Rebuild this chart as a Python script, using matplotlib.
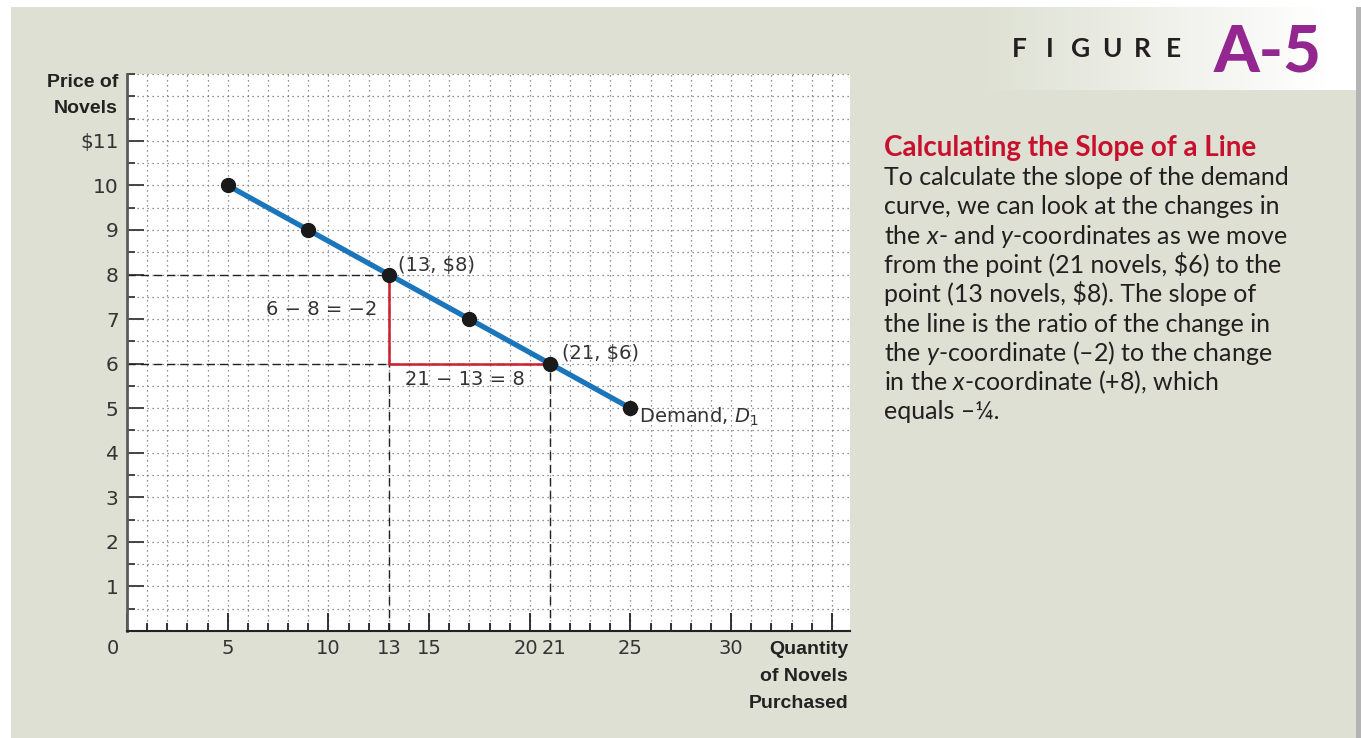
import numpy as np
import matplotlib.pyplot as plt
from matplotlib.patches import Rectangle
from matplotlib.colors import LinearSegmentedColormap
from matplotlib.ticker import MultipleLocator

# demand curve: quantity of novels vs price
quantity = [5, 9, 13, 17, 21, 25]
price = [10, 9, 8, 7, 6, 5]

# the two points used to measure the slope
q_a, p_a = 13, 8
q_b, p_b = 21, 6

x_label_vals = [5, 10, 13, 15, 20, 21, 25, 30]
y_tick_vals = list(range(1, 12))
y_tick_labels = [str(v) for v in range(1, 11)] + ["$11"]

body_lines = [
    "To calculate the slope of the demand",
    "curve, we can look at the changes in",
    "the $x$- and $y$-coordinates as we move",
    "from the point (21 novels, \\$6) to the",
    "point (13 novels, \\$8). The slope of",
    "the line is the ratio of the change in",
    "the $y$-coordinate (\u20132) to the change",
    "in the $x$-coordinate (+8), which",
    "equals \u2013\u00bc.",
]

panel = "#dde0d2"
blue = "#1b75bb"
red = "#d0202f"
purple = "#93278f"
ink = "#333333"

plt.rcParams["mathtext.fontset"] = "custom"
plt.rcParams["mathtext.rm"] = "Lato"
plt.rcParams["mathtext.it"] = "Lato:italic"

W, H = 1361, 738
fig = plt.figure(figsize=(W / 100, H / 100), dpi=100)
fig.patch.set_facecolor("white")


def fx(px):
    return px / W


def fy(py):
    return 1 - py / H


# background panel + shadow on the right
fig.add_artist(Rectangle((fx(11), 0), fx(1356) - fx(11), fy(7), transform=fig.transFigure,
                         facecolor=panel, edgecolor="none", zorder=0))
fig.add_artist(Rectangle((fx(1356), 0), fx(1361) - fx(1356), fy(7), transform=fig.transFigure,
                         facecolor="#b4b4b4", edgecolor="none", zorder=0))

# header band fading to white
gax = fig.add_axes([fx(977), fy(90), fx(1356) - fx(977), (90 - 7) / H])
cmap = LinearSegmentedColormap.from_list("hdr", [(0, panel), (0.92, "white"), (1, "white")])
gax.imshow(np.linspace(0, 1, 256)[None, :], aspect="auto", cmap=cmap)
gax.axis("off")

# the chart
ax = fig.add_axes([fx(127), fy(631), fx(850) - fx(127), (631 - 74) / H])
ax.set_xlim(0, 35.9)
ax.set_ylim(0, 12.5)
ax.set_facecolor("white")

for s in ["top", "right"]:
    ax.spines[s].set_visible(False)
ax.spines["left"].set_color("#5a5a5a")
ax.spines["left"].set_linewidth(2)
ax.spines["bottom"].set_color("#222222")
ax.spines["bottom"].set_linewidth(1.5)

ax.xaxis.set_major_locator(MultipleLocator(5))
ax.xaxis.set_minor_locator(MultipleLocator(1))
ax.tick_params(axis="x", which="major", direction="in", length=13, width=1.3,
               color="#222222", labelbottom=False)
ax.tick_params(axis="x", which="minor", direction="in", length=6, width=1.3, color="#222222")

ax.set_yticks(y_tick_vals, y_tick_labels)
ax.yaxis.set_minor_locator(MultipleLocator(0.5))
ax.tick_params(axis="y", which="major", direction="in", length=12, width=1.4,
               color="#444444", pad=6, labelsize=14.5, labelcolor=ink)
ax.tick_params(axis="y", which="minor", direction="in", length=6, width=1.4, color="#444444")

ax.set_axisbelow(True)
ax.grid(which="both", color="#6e6e6e", linewidth=0.9, linestyle=(0, (1, 3)))

# x tick labels (13 and 21 are labelled, 35 is not); 20 and 21 pushed apart a little
nudge = {20: -4, 21: 4}
for v in x_label_vals:
    ax.annotate(str(v), xy=(v, 0), xytext=(nudge.get(v, 0), -18), textcoords="offset pixels",
                ha="center", va="center", fontsize=14, color=ink)
ax.annotate("0", xy=(0, 0), xytext=(-14, -18), textcoords="offset pixels",
            ha="center", va="center", fontsize=14, color=ink)

# axis titles
bold = dict(family=["Liberation Sans", "DejaVu Sans"], fontweight="bold", fontsize=14, color="#222222")
ax.annotate("Price of", xy=(0, 12.31), xycoords=("axes fraction", "data"), xytext=(-9, 0),
            textcoords="offset pixels", ha="right", va="center", **bold)
ax.annotate("Novels", xy=(0, 11.73), xycoords=("axes fraction", "data"), xytext=(-9, 0),
            textcoords="offset pixels", ha="right", va="center", **bold)
ax.annotate("Quantity\nof Novels\nPurchased", xy=(1, 0), xycoords="axes fraction",
            xytext=(-2, -10), textcoords="offset pixels", ha="right", va="top",
            linespacing=1.78, **bold)

# dashed guides to the axes
dash = dict(color="#222222", linewidth=1.0, linestyle=(0, (6, 3.5)), zorder=2)
ax.plot([0, q_a], [p_a, p_a], **dash)
ax.plot([0, q_b], [p_b, p_b], **dash)
ax.plot([q_a, q_a], [0, p_a], **dash)
ax.plot([q_b, q_b], [0, p_b], **dash)

# rise and run
ax.plot([q_a, q_a, q_b], [p_a, p_b, p_b], color=red, linewidth=1.8, zorder=3)

# demand curve
ax.plot(quantity, price, color=blue, linewidth=3.8, zorder=4)
ax.plot(quantity, price, "o", color="#1a1a1a", markersize=10, zorder=5)

lab = dict(fontsize=14, color=ink, math_fontfamily="dejavusans")
ax.annotate("(13, $8)", xy=(q_a, p_a), xytext=(9, 9), textcoords="offset pixels",
            ha="left", va="center", **lab)
ax.annotate("(21, $6)", xy=(q_b, p_b), xytext=(12, 10), textcoords="offset pixels",
            ha="left", va="center", **lab)
ax.annotate("Demand, $D_1$", xy=(quantity[-1], price[-1]), xytext=(9, -9),
            textcoords="offset pixels", ha="left", va="center", **lab)
ax.annotate("6 \u2212 8 = \u22122", xy=(q_a, (p_a + p_b) / 2), xytext=(-11, 10),
            textcoords="offset pixels", ha="right", va="center", **lab)
ax.annotate("21 \u2212 13 = 8", xy=(q_a, p_b), xytext=(16, -16), textcoords="offset pixels",
            ha="left", va="center", **lab)

# header
for i, ch in enumerate("FIGURE"):
    fig.text(fx(1019 + 30.8 * i), fy(57), ch, ha="center", va="baseline",
             family="Lato", fontweight="bold", fontsize=19, color="#231f20")
fig.text(fx(1322), fy(72), "A-5", ha="right", va="baseline", family="Lato",
         fontweight="black", fontsize=47, color=purple)

# caption
fig.text(fx(884), fy(156), "Calculating the Slope of a Line", ha="left", va="baseline",
         family="Lato", fontweight="bold", fontsize=20, color="#c8102e")
for i, line in enumerate(body_lines):
    fig.text(fx(884), fy(185 + 29.3 * i), line, ha="left", va="baseline",
             family="Lato", fontsize=18, color="#231f20", math_fontfamily="custom")

fig.savefig("out.png", dpi=100, facecolor=fig.get_facecolor())
